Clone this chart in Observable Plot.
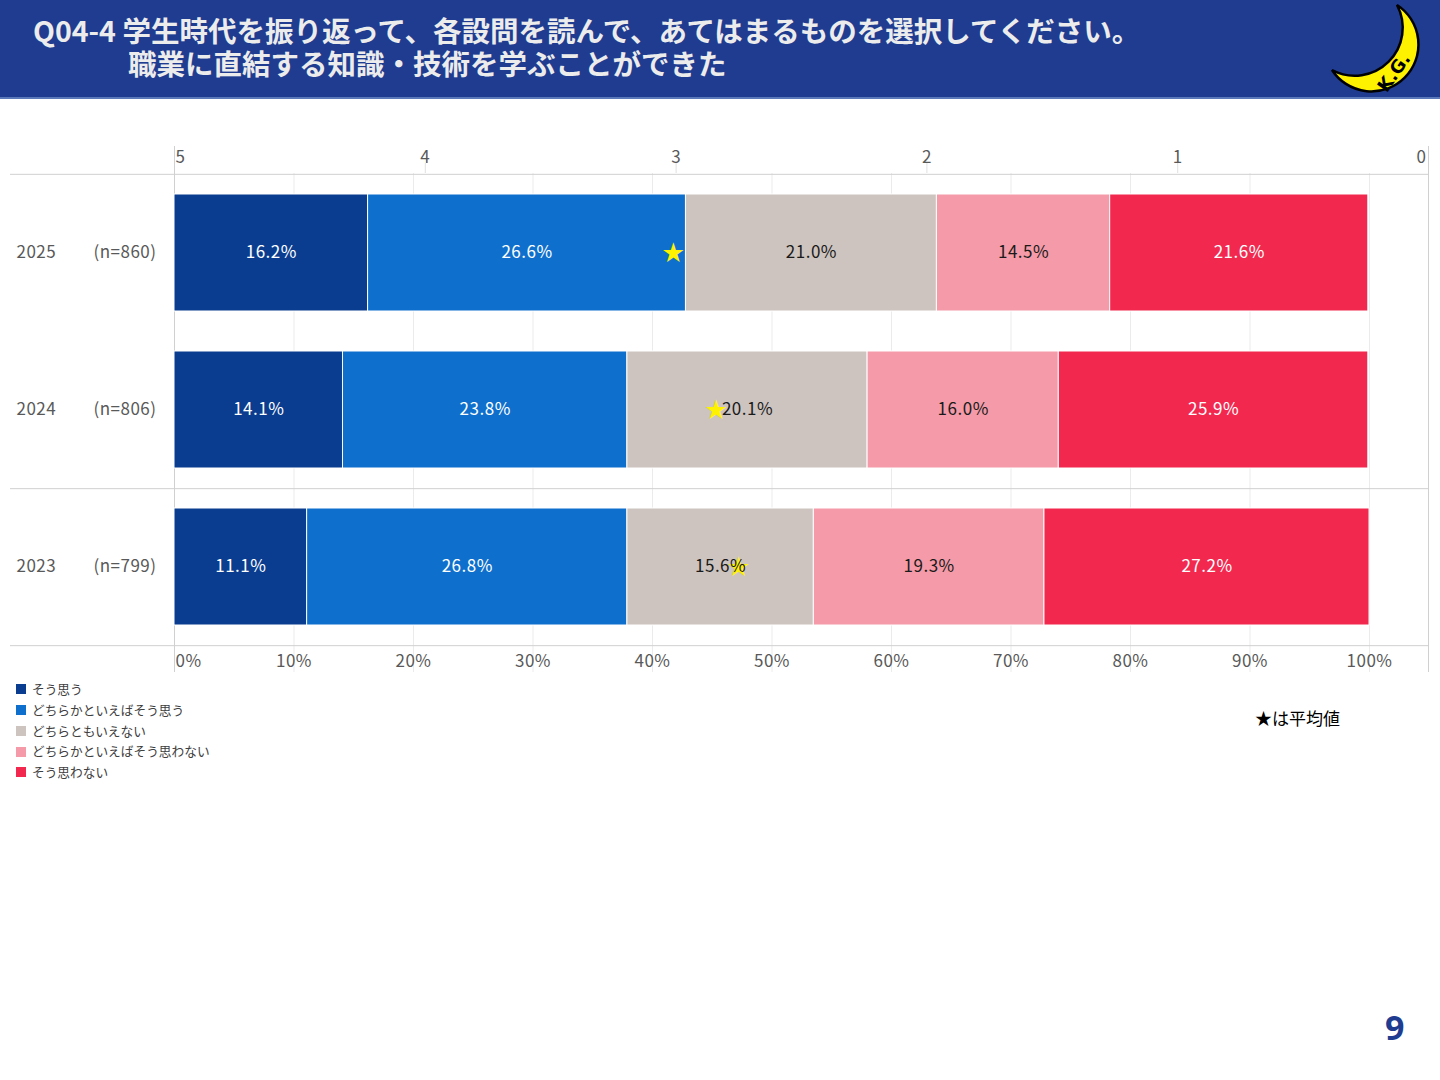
<!DOCTYPE html>
<html lang="ja">
<head>
<meta charset="utf-8">
<script src="https://cdn.jsdelivr.net/npm/d3@7"></script>
<script src="https://cdn.jsdelivr.net/npm/@observablehq/plot@0.6"></script>
<style>
  html, body { margin: 0; padding: 0; background: #fff; overflow: hidden; }
  #page { position: relative; width: 1440px; height: 1080px; font-family: "Noto Sans CJK JP", "Noto Sans", sans-serif; }
  #header { position: absolute; left: 0; top: 0; width: 1440px; height: 97px; background: #1f3c91; border-bottom: 2px solid #5b78b8; }
  #header .t { position: absolute; color: #ececec; font-weight: bold; font-size: 28.5px; line-height: 33px; white-space: nowrap; }
  #logo { position: absolute; left: 1320px; top: 0; overflow: visible; }
  #chart { position: absolute; left: 0; top: 130px; }
  #chart svg { background: transparent; max-width: none; }
  #chart svg text { letter-spacing: 0.5px; }
  #legend { position: absolute; left: 16px; top: 679px; font-size: 12.7px; color: #404040; }
  #legend .item { height: 20.75px; line-height: 20.75px; display: flex; align-items: center; }
  #legend .sw { width: 10px; height: 10px; margin-right: 6px; }
  #note { position: absolute; left: 1255px; top: 705px; font-size: 17px; color: #000; }
  #pageno { position: absolute; left: 1385px; top: 1004px; font-size: 34px; font-weight: bold; color: #1f3c91; font-family: "Open Sans", sans-serif; }
</style>
</head>
<body>
<div id="page">
  <div id="header">
    <div class="t" style="left:33px; top:13px;">Q04-4 学生時代を振り返って、各設問を読んで、あてはまるものを選択してください。</div>
    <div class="t" style="left:128px; top:46px;">職業に直結する知識・技術を学ぶことができた</div>
    <svg id="logo" width="120" height="100" viewBox="1320 0 120 100">
      <path d="M1397,5 A47,47 0 1,1 1332,70 A48,48 0 0,0 1397,5 Z" fill="#fff200" stroke="#000" stroke-width="2.5"/>
      <text x="1399" y="76" transform="rotate(-55 1399 76)" font-size="18" font-weight="bold" font-family="DejaVu Sans, sans-serif" text-anchor="middle" fill="#000">K.G.</text>
    </svg>
  </div>
  <div id="chart"></div>
  <div id="legend"></div>
  <div id="note">★は平均値</div>
  <div id="pageno">9</div>
</div>
<script>
// data
const years = ["2025", "2024", "2023"];
const nLabels = ["(n=860)", "(n=806)", "(n=799)"];
const categories = ["そう思う", "どちらかといえばそう思う", "どちらともいえない", "どちらかといえばそう思わない", "そう思わない"];
const colors = ["#0a3d8f", "#0e6fcd", "#cdc4bf", "#f49aa8", "#f2284f"];
const labelColors = ["white", "white", "#1a1a1a", "#1a1a1a", "white"];
const v2025 = [16.2, 26.6, 21.0, 14.5, 21.6];
const v2024 = [14.1, 23.8, 20.1, 16.0, 25.9];
const v2023 = [11.1, 26.8, 15.6, 19.3, 27.2];
const averages = [3.01, 2.84, 2.75];
const pctTicks = [0, 10, 20, 30, 40, 50, 60, 70, 80, 90, 100];
const scoreTicks = [5, 4, 3, 2, 1, 0];

const series = [v2025, v2024, v2023];

// table for the bars (x1/x2 = running totals)
const rows = years.flatMap((year, i) => {
  let acc = 0;
  return series[i].map((v, j) => {
    const r = {year, cat: categories[j], ci: j, value: v, x1: acc, x2: acc + v};
    acc += v;
    return r;
  });
});
const stars = years.map((year, i) => ({year, avg: averages[i]}));

// the score axis (5..0) runs a bit past 100% on the right
const xMax = 100 * 1254 / 1195;
const scoreX = s => (5 - s) / 5 * xMax;

const W = 1440, H = 550, mTop = 43, mBottom = 35;
const frameH = H - mTop - mBottom;
const step = frameH / years.length;
const grey = "#595959";
const fs = 17;

const chart = Plot.plot({
  width: W,
  height: H,
  marginLeft: 174,
  marginRight: 12,
  marginTop: mTop,
  marginBottom: mBottom,
  style: {fontFamily: "'Noto Sans CJK JP', 'Noto Sans', sans-serif", fontSize: "16px", background: "transparent"},
  x: {domain: [0, xMax], axis: null},
  y: {domain: years, axis: null, paddingInner: 0.255, paddingOuter: 0.1275},
  color: {domain: categories, range: colors},
  marks: [
    // grid
    Plot.ruleX(pctTicks.slice(1), {x: d => d, stroke: "#ebebeb", insetBottom: -27}),
    Plot.ruleX(scoreTicks.slice(1, -1), {x: scoreX, stroke: "#e0e0e0", insetTop: -10, insetBottom: frameH}),
    Plot.ruleX([0, xMax], {x: d => d, stroke: "#d0d0d0", insetTop: -27, insetBottom: -27}),
    Plot.ruleY([years[0]], {y: d => d, dy: -step / 2, stroke: "#d0d0d0", insetLeft: -164}),
    Plot.ruleY([years[1], years[2]], {y: d => d, dy: step / 2, stroke: "#d0d0d0", insetLeft: -164}),
    // bars
    Plot.barX(rows, {x1: "x1", x2: "x2", y: "year", fill: "cat", stroke: "white", strokeWidth: 1}),
    // average stars
    Plot.text(stars, {x: d => scoreX(d.avg), y: "year", text: () => "★", fill: "#fff200", fontSize: 22}),
    // segment labels
    Plot.text(rows, {filter: d => labelColors[d.ci] === "white", x: d => (d.x1 + d.x2) / 2, y: "year",
      text: d => d.value.toFixed(1) + "%", fill: "white", fontSize: fs}),
    Plot.text(rows, {filter: d => labelColors[d.ci] !== "white", x: d => (d.x1 + d.x2) / 2, y: "year",
      text: d => d.value.toFixed(1) + "%", fill: "#1a1a1a", fontSize: fs}),
    // row labels
    Plot.text(years, {y: d => d, text: d => d, frameAnchor: "left", textAnchor: "start", dx: -158, fill: grey, fontSize: fs}),
    Plot.text(years, {y: d => d, text: (d, i) => nLabels[i], frameAnchor: "left", textAnchor: "end", dx: -18, fill: grey, fontSize: fs}),
    // top score axis labels
    Plot.text([5], {x: scoreX, text: d => String(d), frameAnchor: "top", lineAnchor: "middle", dy: -16, textAnchor: "start", dx: 1, fill: grey, fontSize: fs}),
    Plot.text([4, 3, 2, 1], {x: scoreX, text: d => String(d), frameAnchor: "top", lineAnchor: "middle", dy: -16, fill: grey, fontSize: fs}),
    Plot.text([0], {x: scoreX, text: d => String(d), frameAnchor: "top", lineAnchor: "middle", dy: -16, textAnchor: "end", dx: -2, fill: grey, fontSize: fs}),
    // bottom percent axis labels
    Plot.text([0], {x: d => d, text: d => d + "%", frameAnchor: "bottom", lineAnchor: "middle", dy: 16, textAnchor: "start", dx: 1, fill: grey, fontSize: fs}),
    Plot.text(pctTicks.slice(1), {x: d => d, text: d => d + "%", frameAnchor: "bottom", lineAnchor: "middle", dy: 16, fill: grey, fontSize: fs})
  ]
});
d3.select("#chart").append(() => chart);

// legend
const legend = d3.select("#legend");
categories.forEach((c, i) => {
  const item = legend.append("div").attr("class", "item");
  item.append("div").attr("class", "sw").style("background", colors[i]);
  item.append("span").text(c);
});
</script>
</body>
</html>
